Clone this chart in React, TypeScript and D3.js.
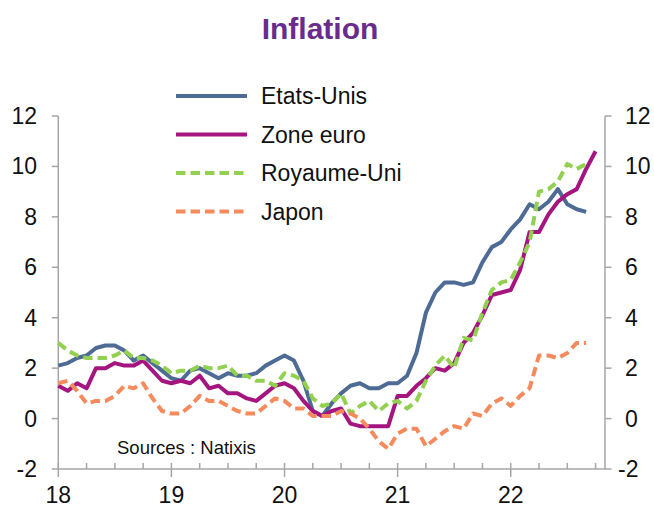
import * as d3 from 'd3';

// Monthly year-on-year CPI, Jan 2018 onwards (%)
const etatsUnis = [
  2.1, 2.2, 2.4, 2.5, 2.8, 2.9, 2.9, 2.7, 2.3, 2.5, 2.2, 1.9,
  1.6, 1.5, 1.9, 2.0, 1.8, 1.6, 1.8, 1.7, 1.7, 1.8, 2.1, 2.3,
  2.5, 2.3, 1.5, 0.3, 0.1, 0.6, 1.0, 1.3, 1.4, 1.2, 1.2, 1.4,
  1.4, 1.7, 2.6, 4.2, 5.0, 5.4, 5.4, 5.3, 5.4, 6.2, 6.8, 7.0,
  7.5, 7.9, 8.5, 8.3, 8.6, 9.1, 8.5, 8.3, 8.2,
];
const zoneEuro = [
  1.3, 1.1, 1.4, 1.2, 2.0, 2.0, 2.2, 2.1, 2.1, 2.3, 1.9, 1.5,
  1.4, 1.5, 1.4, 1.7, 1.2, 1.3, 1.0, 1.0, 0.8, 0.7, 1.0, 1.3,
  1.4, 1.2, 0.7, 0.3, 0.1, 0.3, 0.4, -0.2, -0.3, -0.3, -0.3, -0.3,
  0.9, 0.9, 1.3, 1.6, 2.0, 1.9, 2.2, 3.0, 3.4, 4.1, 4.9, 5.0,
  5.1, 5.9, 7.4, 7.4, 8.1, 8.6, 8.9, 9.1, 9.9, 10.6,
];
const royaumeUni = [
  3.0, 2.7, 2.5, 2.4, 2.4, 2.4, 2.5, 2.7, 2.4, 2.4, 2.3, 2.1,
  1.8, 1.9, 1.9, 2.1, 2.0, 2.0, 2.1, 1.7, 1.7, 1.5, 1.5, 1.3,
  1.8, 1.7, 1.5, 0.8, 0.5, 0.6, 1.0, 0.2, 0.5, 0.7, 0.3, 0.6,
  0.7, 0.4, 0.7, 1.5, 2.1, 2.5, 2.0, 3.2, 3.1, 4.2, 5.1, 5.4,
  5.5, 6.2, 7.0, 9.0, 9.1, 9.4, 10.1, 9.9, 10.1,
];
const japon = [
  1.4, 1.5, 1.1, 0.6, 0.7, 0.7, 0.9, 1.3, 1.2, 1.4, 0.8, 0.3,
  0.2, 0.2, 0.5, 0.9, 0.7, 0.7, 0.5, 0.3, 0.2, 0.2, 0.5, 0.8,
  0.7, 0.4, 0.4, 0.1, 0.1, 0.1, 0.3, 0.2, 0.0, -0.4, -0.9, -1.2,
  -0.6, -0.4, -0.4, -1.1, -0.8, -0.5, -0.3, -0.4, 0.2, 0.1, 0.6, 0.8,
  0.5, 0.9, 1.2, 2.5, 2.5, 2.4, 2.6, 3.0, 3.0,
];

const yearLabels = ['18', '19', '20', '21', '22'];
const yTicks = [-2, 0, 2, 4, 6, 8, 10, 12];

const series = [
  { name: 'Etats-Unis', values: etatsUnis, color: '#4E6B96', dash: '' },
  { name: 'Zone euro', values: zoneEuro, color: '#A5157F', dash: '' },
  { name: 'Royaume-Uni', values: royaumeUni, color: '#92D050', dash: '9.5,5' },
  { name: 'Japon', values: japon, color: '#F58B5C', dash: '9.5,5' },
];

const font = '"Liberation Sans", Arial, sans-serif';

export default function App() {
  const width = 654;
  const height = 509;

  const x = d3.scaleLinear().domain([0, 58]).range([58.3, 605]);
  const y = d3.scaleLinear().domain([-2, 12]).range([469, 116]);

  const line = d3
    .line<number>()
    .x((_, i) => x(i))
    .y((d) => y(d));

  const quarterTicks = d3.range(0, 58, 3);
  const axisColor = '#A6A6A6';

  return (
    <svg
      width={width}
      height={height}
      style={{ position: 'absolute', left: 0, top: 0, background: '#fff' }}
      fontFamily={font}
    >
      {/* Title */}
      <text x={320} y={39} textAnchor="middle" fontSize={30} fontWeight="bold" fill="#6A2C8C">
        Inflation
      </text>

      {/* Left axis */}
      <line x1={x(0)} x2={x(0)} y1={y(12)} y2={y(-2)} stroke={axisColor} strokeWidth={1.5} />
      {yTicks.map((t) => (
        <g key={'l' + t}>
          <line x1={x(0) - 6.5} x2={x(0)} y1={y(t)} y2={y(t)} stroke={axisColor} strokeWidth={1.5} />
          <text x={37} y={y(t) + 8} textAnchor="end" fontSize={23} fill="#111">
            {t}
          </text>
        </g>
      ))}

      {/* Right axis */}
      <line x1={x(58)} x2={x(58)} y1={y(12)} y2={y(-2)} stroke={axisColor} strokeWidth={1.5} />
      {yTicks.map((t) => (
        <g key={'r' + t}>
          <line x1={x(58)} x2={x(58) + 6.5} y1={y(t)} y2={y(t)} stroke={axisColor} strokeWidth={1.5} />
          <text x={t < 0 ? 618 : 625} y={y(t) + 8} textAnchor="start" fontSize={23} fill="#111">
            {t}
          </text>
        </g>
      ))}

      {/* Bottom axis */}
      <line x1={x(0)} x2={x(58)} y1={y(-2)} y2={y(-2)} stroke={axisColor} strokeWidth={1.5} />
      {quarterTicks.map((m) => (
        <line
          key={'q' + m}
          x1={x(m)}
          x2={x(m)}
          y1={y(-2) - 6}
          y2={m % 12 === 0 ? y(-2) + 8 : y(-2)}
          stroke={axisColor}
          strokeWidth={1.5}
        />
      ))}
      {yearLabels.map((lab, i) => (
        <text key={lab} x={x(i * 12)} y={503} textAnchor="middle" fontSize={23} fill="#111">
          {lab}
        </text>
      ))}

      {/* Series */}
      {series.map((s) => (
        <path
          key={s.name}
          d={line(s.values) ?? ''}
          fill="none"
          stroke={s.color}
          strokeWidth={4}
          strokeDasharray={s.dash || undefined}
          strokeLinejoin="round"
        />
      ))}

      {/* Legend */}
      {series.map((s, i) => {
        const ly = 96 + i * 38.5;
        return (
          <g key={'lg' + s.name}>
            <line x1={176} x2={247} y1={ly} y2={ly} stroke={s.color} strokeWidth={4} strokeDasharray={s.dash || undefined} />
            <text x={261} y={ly + 8} fontSize={23} fill="#111">
              {s.name}
            </text>
          </g>
        );
      })}

      <text x={117} y={454} fontSize={18.5} fill="#111">
        Sources : Natixis
      </text>
    </svg>
  );
}
